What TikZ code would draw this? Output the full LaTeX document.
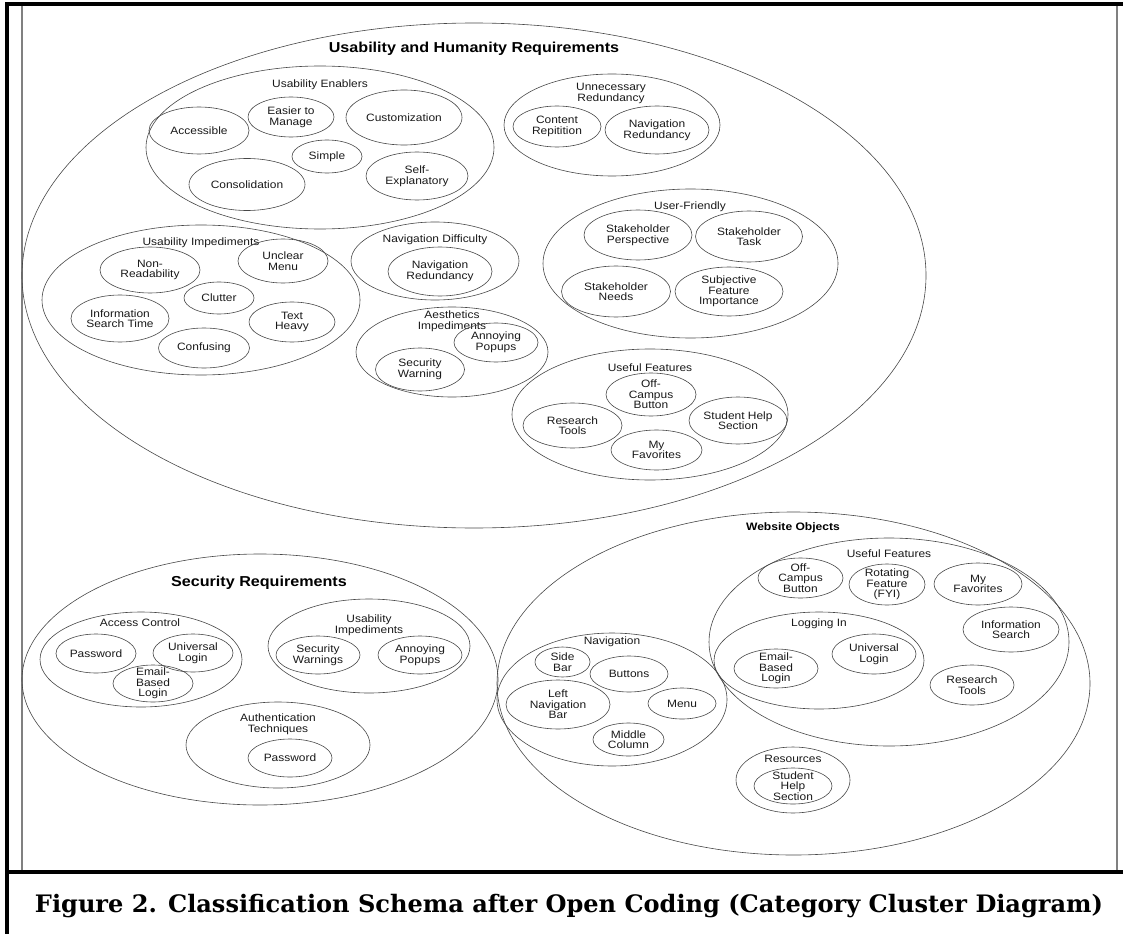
\documentclass[tikz,border=0pt]{standalone}
\usepackage{fontspec}
\setmainfont{Liberation Sans}[FakeStretch=1.12]
\newfontfamily\capfont{DejaVu Serif}
\usetikzlibrary{shapes.geometric}
\newcommand\leaf[6]{\node[ov,minimum width=#4*1.5pt,minimum height=#5*1.5pt,label={[txt]center:{#6}}] (#1) at (#2,#3) {};}
\newcommand\grp[5]{\node[ov,minimum width=#4*1.5pt,minimum height=#5*1.5pt] (#1) at (#2,#3) {};}
\begin{document}
\begin{tikzpicture}[x=0.75pt,y=-0.75pt,
  ov/.style={ellipse,draw=black!72,line width=0.45pt,inner sep=0pt,outer sep=0pt},
  txt/.style={font=\fontsize{8pt}{7.9pt}\selectfont,align=center,inner sep=0pt,text=black!90},
  ttl/.style={font=\bfseries\fontsize{10.8pt}{11pt}\selectfont,inner sep=0pt},
  sttl/.style={font=\bfseries\fontsize{8.1pt}{8pt}\selectfont,inner sep=0pt}]
\useasboundingbox (0,0) rectangle (1123,934);
% frame
\draw[black!50,line width=0.8pt] (22,5.5) rectangle (1117,872);
\draw[line width=2.3pt] (1123,4) -- (7,4) -- (7,934);
\draw[line width=2.3pt] (7,872) -- (1123,872);
\node[anchor=base,inner sep=0pt,font=\capfont\bfseries] (cap) at (569,912)
  {\resizebox{801pt}{!}{Figure 2. Classification Schema after Open Coding (Category Cluster Diagram)}};

% ---------- Usability and Humanity Requirements
\grp{uhr}{474}{275.5}{452}{252.5}
\node[ttl] (uhr-t) at (474,49) {Usability and Humanity Requirements};

\grp{ue}{320}{147.5}{174}{81.5}
\node[txt] (ue-t) at (320,85) {Usability Enablers};
\leaf{acc}{199}{130.5}{50}{23.5}{Accessible}
\leaf{etm}{291}{117}{43}{20}{Easier to\\Manage}
\leaf{cus}{404}{117.5}{58}{27.5}{Customization}
\leaf{sim}{327}{156.5}{35}{16.5}{Simple}
\leaf{con}{247}{184.5}{58}{26}{Consolidation}
\leaf{sel}{417}{176}{51}{24}{Self-\\Explanatory}

\grp{ui}{201}{300}{159}{75}
\node[txt] (ui-t) at (201,243) {Usability Impediments};
\leaf{nr}{150}{270}{50}{23}{Non-\\Readability}
\leaf{um}{283}{261}{45}{22}{Unclear\\Menu}
\leaf{clu}{219}{298}{35}{16}{Clutter}
\leaf{ist}{120}{318.5}{49}{23.5}{Information\\Search Time}
\leaf{th}{292}{322}{43}{20}{Text\\Heavy}
\leaf{cf}{204}{348}{45.5}{20}{Confusing}

\grp{nd}{435}{261}{84}{39}
\node[txt] (nd-t) at (435,240) {Navigation Difficulty};
\leaf{ndr}{440}{271.5}{52}{24.5}{Navigation\\Redundancy}

\grp{ai}{452}{352}{96}{45}
\node[txt] (ai-t) at (452,321) {Aesthetics\\Impediments};
\leaf{ap}{496}{342.5}{42}{19.5}{Annoying\\Popups}
\leaf{sw}{420}{369.5}{44.5}{21.5}{Security\\Warning}

\grp{ur}{612}{125}{108}{51}
\node[txt] (ur-t) at (611,93.5) {Unnecessary\\Redundancy};
\leaf{cr}{557}{126.5}{44}{20.5}{Content\\Repitition}
\leaf{nvr}{657}{130}{52}{24}{Navigation\\Redundancy}

\grp{uf}{690.5}{263.5}{147.5}{74.5}
\node[txt] (uf-t) at (690,207) {User-Friendly};
\leaf{sp}{638}{235}{54}{25}{Stakeholder\\Perspective}
\leaf{st}{749}{236.5}{53.5}{25.5}{Stakeholder\\Task}
\leaf{sn}{616}{291.5}{54.5}{25.5}{Stakeholder\\Needs}
\leaf{sfi}{729}{291.5}{54}{24.5}{Subjective\\Feature\\Importance}

\grp{uft}{650}{414.5}{138}{65.5}
\node[txt] (uft-t) at (650,368) {Useful Features};
\leaf{ocb}{651}{394.5}{45}{21.5}{Off-\\Campus\\Button}
\leaf{rt}{572.5}{425.5}{49.5}{22.5}{Research\\Tools}
\leaf{shs}{738}{420.5}{49}{23.5}{Student Help\\Section}
\leaf{mf}{656.5}{450}{45.5}{20}{My\\Favorites}

% ---------- Security Requirements
\grp{sr}{260}{679.5}{238}{125.5}
\node[ttl] (sr-t) at (259,583) {Security Requirements};

\grp{ac}{141}{659.5}{101}{47.5}
\node[txt] (ac-t) at (140,623) {Access Control};
\leaf{pw}{96}{653.5}{40}{19.5}{Password}
\leaf{ul}{193}{653}{40}{19}{Universal\\Login}
\leaf{ebl}{153}{683.5}{40}{18.5}{Email-\\Based\\Login}

\grp{sui}{369}{646}{101}{47}
\node[txt] (sui-t) at (369,625.5) {Usability\\Impediments};
\leaf{sws}{318}{655}{42}{19}{Security\\Warnings}
\leaf{sap}{420}{655}{42}{19}{Annoying\\Popups}

\grp{at}{278}{745}{92}{43}
\node[txt] (at-t) at (278,724) {Authentication\\Techniques};
\leaf{apw}{290}{758}{42}{19}{Password}

% ---------- Website Objects
\grp{wo}{793.5}{683.5}{296.5}{171.5}
\node[sttl] (wo-t) at (793,528) {Website Objects};

\grp{wuf}{889}{642}{180}{104}
\node[txt] (wuf-t) at (889,554) {Useful Features};
\leaf{wocb}{800.5}{578}{42.5}{20}{Off-\\Campus\\Button}
\leaf{rf}{887}{584.5}{38}{20.5}{Rotating\\Feature\\(FYI)}
\leaf{wmf}{978}{584}{44}{21}{My\\Favorites}
\leaf{is}{1011}{629.5}{48}{22.5}{Information\\Search}
\leaf{wrt}{972}{685}{42}{20}{Research\\Tools}

\grp{li}{819}{660.5}{105}{48.5}
\node[txt] (li-t) at (819,624) {Logging In};
\leaf{webl}{776}{668.5}{42}{19.5}{Email-\\Based\\Login}
\leaf{wul}{874}{654}{42}{20}{Universal\\Login}

\grp{nav}{612}{699.5}{115}{66.5}
\node[txt] (nav-t) at (612,642) {Navigation};
\leaf{sb}{562.5}{662}{27.5}{15}{Side\\Bar}
\leaf{bt}{629}{674}{39}{18}{Buttons}
\leaf{lnb}{558}{704.5}{52}{24.5}{Left\\Navigation\\Bar}
\leaf{mn}{682}{703.5}{34}{15.5}{Menu}
\leaf{mc}{628.5}{739.5}{35.5}{16.5}{Middle\\Column}

\grp{res}{793}{780}{57}{33}
\node[txt] (res-t) at (793,759) {Resources};
\leaf{rshs}{793}{786}{39}{18}{Student\\Help\\Section}
\end{tikzpicture}
\end{document}
